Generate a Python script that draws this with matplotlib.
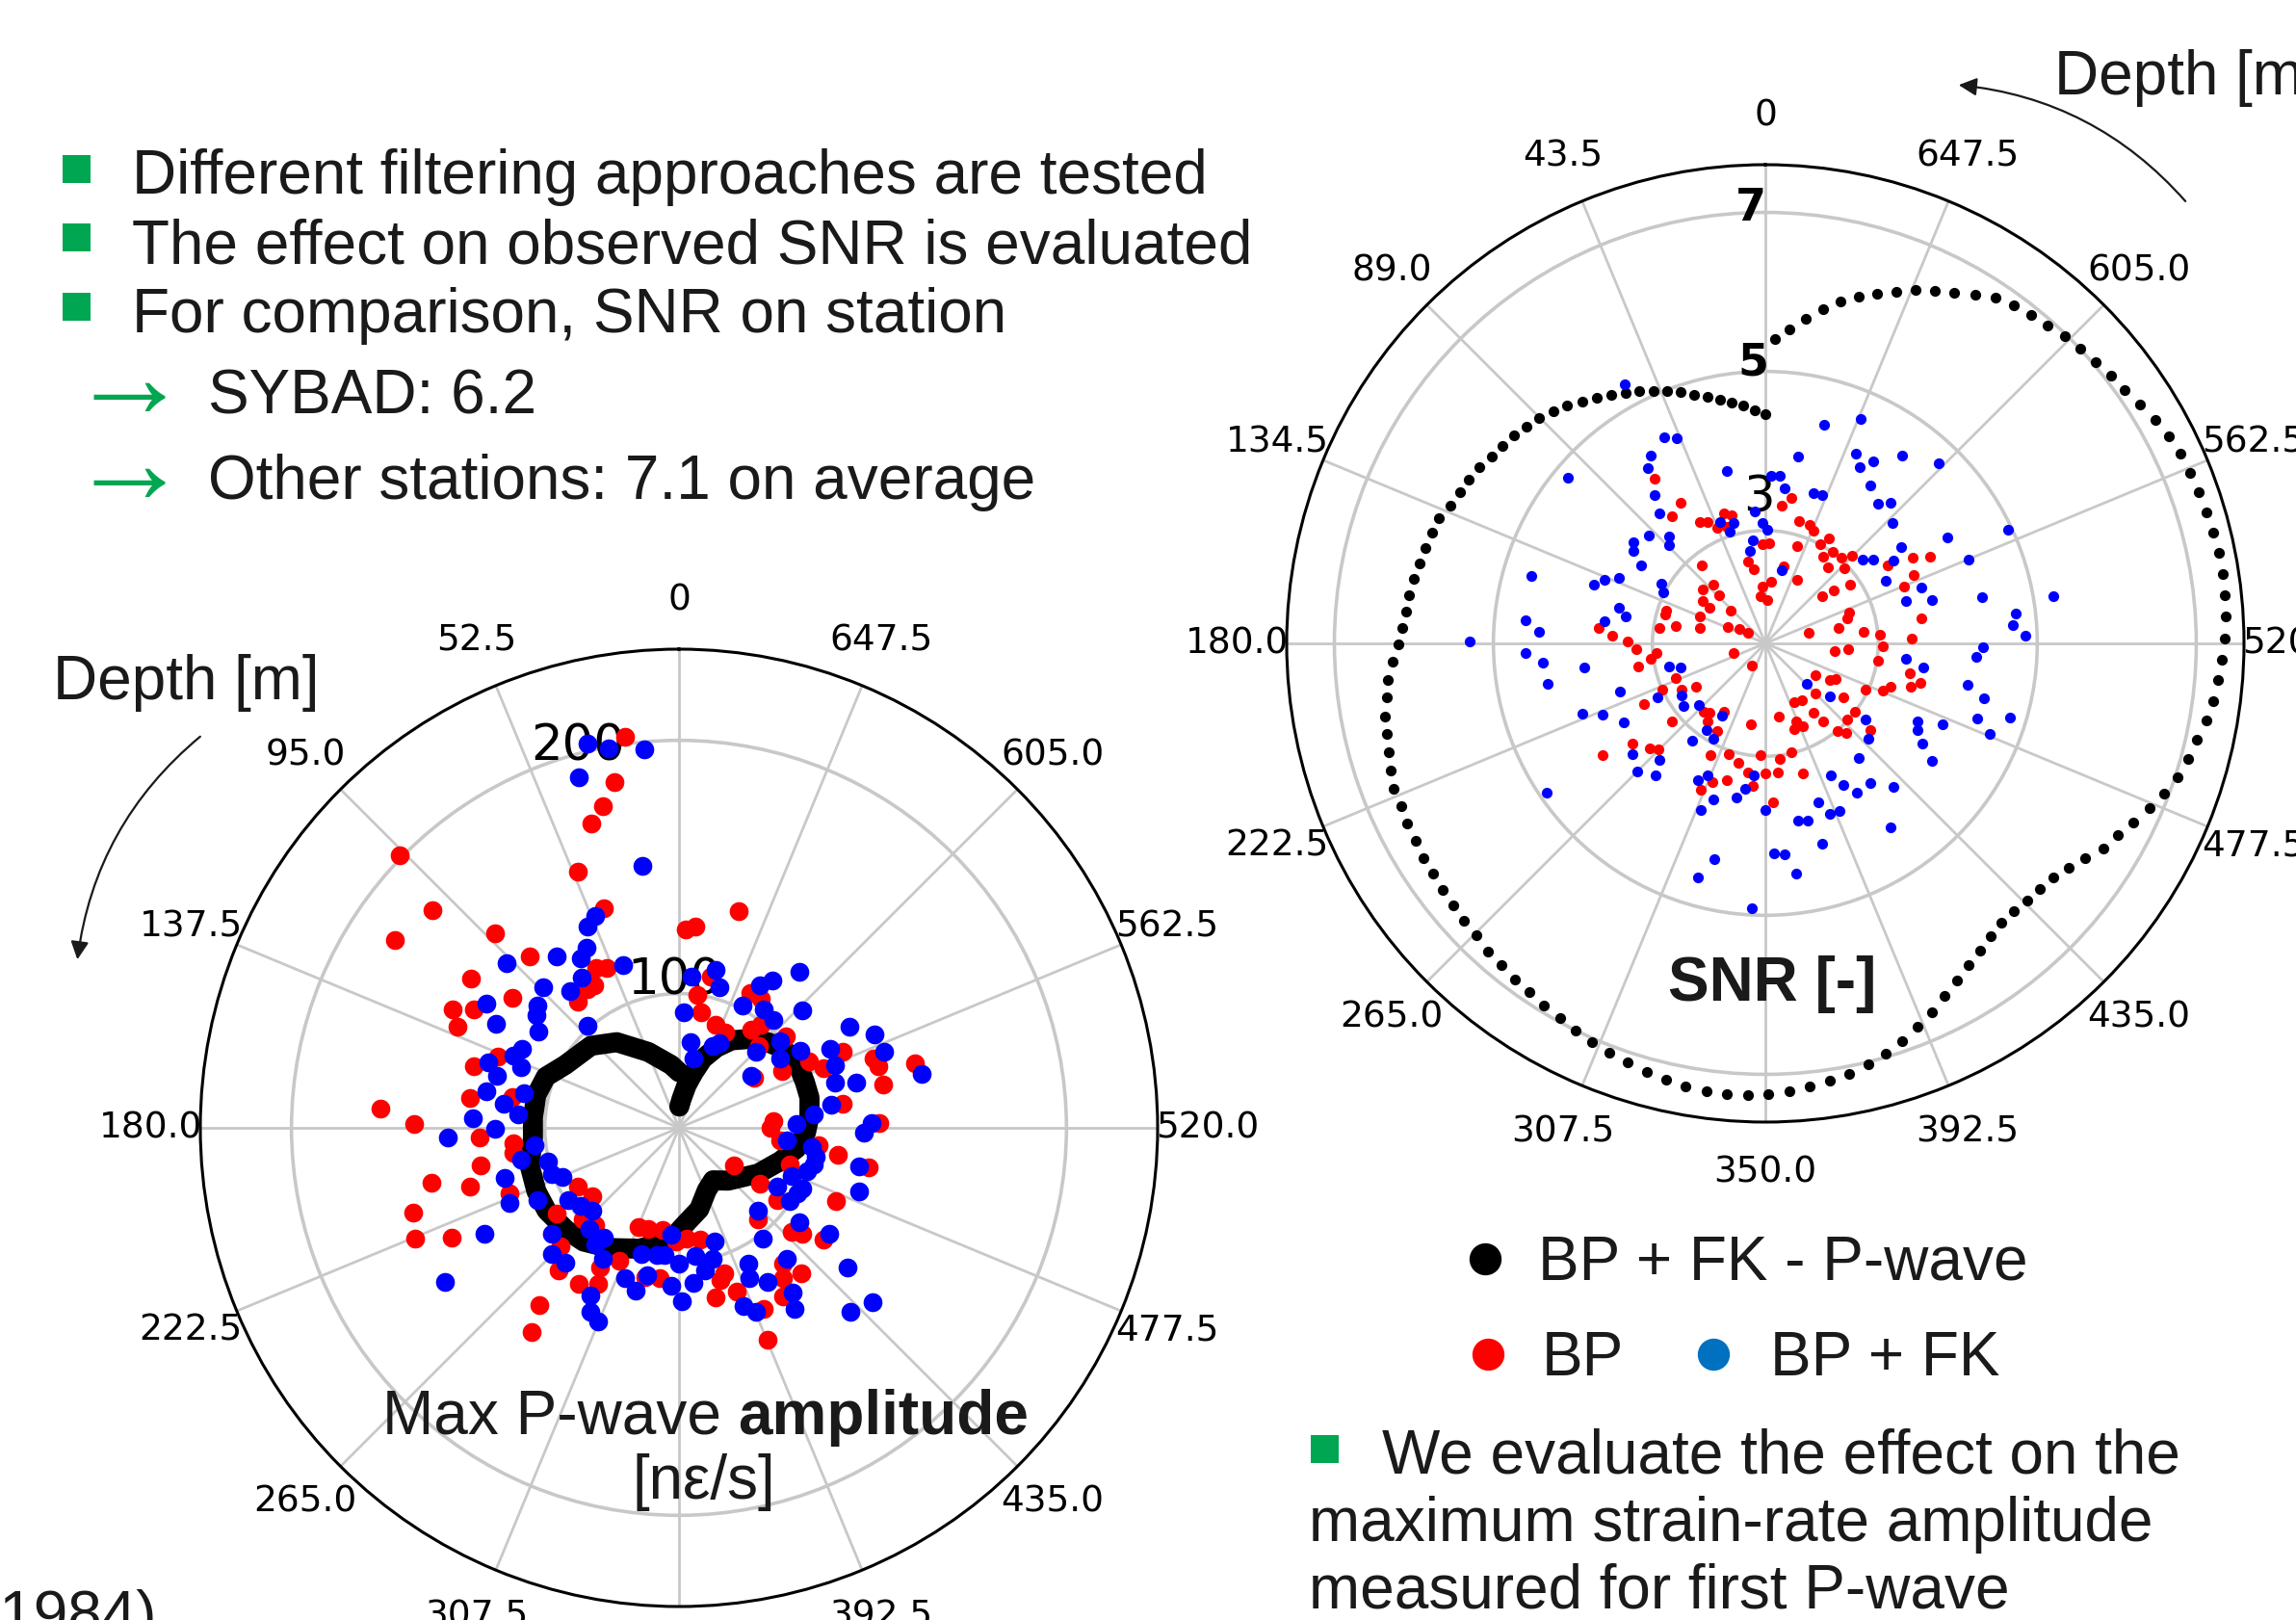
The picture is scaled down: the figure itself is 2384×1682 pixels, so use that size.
# -*- coding: utf-8 -*-
import matplotlib
matplotlib.use('Agg')
import matplotlib.pyplot as plt
import numpy as np
from matplotlib.patches import Rectangle, FancyArrowPatch
from matplotlib.lines import Line2D

W, H = 2384, 1683
GREEN = '#00a651'
TXT = '#1a1a1a'
SLIDE_FONT = ['Liberation Sans', 'DejaVu Sans']

# ---- dial labels (depth [m]) ----
amp_depth_labels = ['0', '52.5', '95.0', '137.5', '180.0', '222.5', '265.0', '307.5',
                    '350.0', '392.5', '435.0', '477.5', '520.0', '562.5', '605.0', '647.5']
snr_depth_labels = ['0', '43.5', '89.0', '134.5', '180.0', '222.5', '265.0', '307.5',
                    '350.0', '392.5', '435.0', '477.5', '520.0', '562.5', '605.0', '647.5']

# ---- left: max P-wave amplitude [nε/s], angle in degrees on the dial ----
amp_pwave_angle = [0, 7, 22, 36, 47, 61, 69, 77, 86, 94, 104, 114, 122, 132, 140, 150,
                   162, 176, 185, 194, 204, 213, 223, 240, 252, 260, 268, 275, 283, 290,
                   298, 307, 314, 322, 329, 335, 341, 345, 350, 355, 359]
amp_pwave = [69, 72, 79.3, 88.8, 94.5, 98.3, 103.3, 104.8, 104.8, 104.8, 107.8, 108.6,
             108.6, 107.1, 105.6, 101.8, 97.2, 91.1, 84.3, 80.1, 74, 71.7, 75.5, 83.1,
             89.2, 94.1, 97.2, 98.7, 99.9, 99.9, 100.2, 98.7, 95.7, 91.5, 87.3, 82, 75.9,
             69.8, 64.1, 58.4, 55.4]

amp_bp_angle = [7.9, 10.6, 13.3, 16.0, 45.7, 21.5, 19.0, 48.6, 56.6, 43.4, 41.1, 54.4, 52.0,
                62.4, 60.0, 27.3, 24.3, 30.6, 38.6, 33.5,
                344.5, 358.1, 355.4, 352.1, 349.0, 332.1, 327.6, 348.0,
                86.4, 89.2, 92.7, 95.4, 98.7, 100.6, 102.6, 105.6, 111.2, 107.7, 112.8, 115.7,
                73.4, 68.5, 81.8, 65.4, 125.0, 120.3, 128.4, 133.6, 139.4, 134.9, 139.8, 147.3,
                152.5, 150.6, 155.7, 141.7, 144.1, 158.0, 163.2, 171.1, 178.4, 167.3, 172.7, 79.5,
                340.6, 333.9, 323.7, 321.5, 315.7, 310.5, 298.8, 297.0, 292.5, 294.8, 289.6,
                287.1, 282.1, 285.3, 278.5, 271.3, 274.1, 270.2, 262.9, 262.9, 260.4, 258.1,
                235.7, 251.7, 235.5, 233.5, 220.8, 245.0, 227.2, 229.5, 232.2, 303.6, 217.5,
                220.0, 214.7, 211.8, 192.3, 195.3, 197.2, 199.5, 205.2, 202.7, 184.1, 190.6]
amp_bp = [202.9, 185.8, 177.4, 172.0, 201.0, 155.7, 138.6, 176.7, 181.4, 152.7, 136.7, 148.0,
          130.6, 147.8, 140.6, 118.0, 116.3, 112.4, 110.9, 112.5,
          135.9, 125.3, 126.6, 99.9, 93.6, 107.4, 107.2, 108.0,
          165.1, 151.6, 125.7, 112.6, 113.0, 126.7, 147.2, 132.8, 118.6, 157.2, 160.0, 146.8,
          131.6, 124.0, 130.3, 143.2, 105.8, 93.2, 90.6, 99.4, 97.7, 113.2, 120.6, 120.4,
          116.4, 110.2, 104.6, 136.0, 146.5, 89.2, 88.6, 87.9, 91.9, 107.3, 106.9, 114.0,
          90.1, 88.8, 95.1, 99.0, 92.4, 102.6, 93.3, 104.6, 108.7, 118.2, 128.4,
          129.2, 129.3, 143.6, 112.4, 126.2, 84.5, 83.1, 87.2, 102.6, 110.6, 123.4,
          73.1, 93.0, 85.9, 95.1, 94.5, 115.6, 107.5, 111.2, 119.2, 82.7, 114.7,
          122.0, 119.3, 125.1, 115.6, 109.3, 107.2, 115.4, 126.0, 137.5, 90.7, 92.0]

amp_bpfk_angle = [13.4, 10.5, 5.2, 16.0, 7.9, 21.6, 24.5, 27.1, 30.2, 35.4, 46.3, 19.0, 32.9,
                  43.9, 38.6, 57.3, 49.1, 51.7,
                  355.2, 346.8, 343.8, 322.3, 330.3, 327.7, 332.5, 324.3, 313.7, 357.6,
                  60.4, 55.5, 41.9, 63.3, 66.3, 71.2, 74.1, 69.1, 79.3, 77.4, 82.3, 85.3, 87.2,
                  90.2, 92.3, 96.8, 101.4, 104.6, 106.0, 112.7, 110.0, 117.0, 113.9, 123.0, 128.6,
                  133.8, 138.3, 145.5, 144.4, 129.7, 134.8, 139.9, 149.8, 152.2, 154.4, 157.2,
                  118.7, 123.3, 160.4, 165.1, 167.7, 163.4, 170.0, 173.5, 175.7, 177.3, 181.0, 180.0,
                  318.7, 300.8, 295.5, 290.3, 297.6, 292.0, 286.2, 284.3, 278.5, 352.5, 348.2,
                  337.7, 334.8, 314.7, 310.7, 302.4, 304.4, 305.6, 271.7, 275.6, 263.4, 261.9,
                  258.2, 254.8, 251.5, 271.3, 268.6, 258.0, 250.5, 246.9, 238.9, 243.8, 241.1,
                  236.4, 223.6, 231.9, 234.9, 217.0, 230.4, 227.9, 222.9, 197.3, 187.2, 190.2,
                  194.4, 185.3, 206.9, 205.1, 209.9, 219.3, 214.6, 212.6, 199.9, 202.7, 282.5]
amp_bpfk = [202.9, 199.3, 196.9, 190.9, 151.4, 137.1, 134.2, 126.8, 124.4, 130.1, 141.2, 115.1,
            117.6, 124.2, 116.1, 137.6, 120.8, 118.8,
            106.9, 110.9, 104.8, 124.8, 111.8, 115.7, 101.4, 104.4, 114.1, 92.8,
            130.1, 114.3, 101.1, 116.5, 118.3, 126.7, 121.7, 113.8, 124.4, 109.6, 117.0, 110.6,
            128.4, 119.6, 138.3, 104.4, 110.7, 100.4, 118.6, 96.9, 100.3, 109.6, 120.1, 99.1,
            96.5, 94.4, 100.3, 99.6, 103.7, 112.4, 117.9, 116.5, 107.0, 121.8, 127.6, 129.8,
            134.4, 157.6, 110.1, 113.5, 106.5, 98.9, 98.0, 97.5, 89.4, 109.4, 115.3, 100.7,
            103.7, 125.2, 132.7, 133.5, 114.2, 113.3, 111.0, 119.3, 107.8, 81.0, 74.9,
            82.0, 84.1, 89.7, 99.7, 103.8, 95.4, 82.0, 93.3, 100.5, 89.7, 100.1,
            102.1, 102.2, 100.5, 123.0, 119.9, 119.6, 122.3, 95.2, 92.1, 101.4, 100.5,
            99.5, 92.4, 107.4, 119.5, 101.9, 133.4, 149.9, 146.3, 94.0, 98.0, 104.2,
            100.5, 108.6, 107.2, 112.6, 117.0, 114.0, 126.2, 131.8, 121.7, 125.9, 145.1]

# ---- right: SNR [-] ----
snr_pwave = [4.46, 4.52, 4.58, 4.64, 4.70, 4.76, 4.83, 4.91, 4.98, 5.05, 5.13, 5.19,
             5.26, 5.33, 5.40, 5.47, 5.53, 5.59, 5.64, 5.68, 5.72, 5.75, 5.80, 5.84,
             5.87, 5.91, 5.98, 6.00, 6.02, 6.05, 6.08, 6.10, 6.12, 6.15,
             6.19, 6.27, 6.35, 6.39, 6.45, 6.48, 6.51, 6.56, 6.60, 6.60,
             6.62, 6.63, 6.66, 6.67, 6.69, 6.70, 6.73, 6.75, 6.79, 6.81,
             6.85, 6.88, 6.92, 6.95, 7.00, 7.05, 7.09, 7.13, 7.17, 7.21,
             7.24, 7.26, 7.27, 7.27, 7.25, 7.22, 7.18, 7.14, 7.10, 7.03,
             6.96, 6.87, 6.77, 6.67, 6.55, 6.45, 6.36, 6.29, 6.23, 6.18,
             6.18, 6.19, 6.21, 6.25, 6.33, 6.42, 6.55, 6.63, 6.73, 6.84, 6.94, 7.03,
             7.09, 7.14, 7.21, 7.26, 7.29, 7.33, 7.36, 7.38, 7.39, 7.40,
             7.40, 7.38, 7.37, 7.35, 7.33, 7.32, 7.29, 7.23, 7.17, 7.11,
             7.08, 7.04, 7.00, 6.97, 6.93, 6.89, 6.85, 6.80, 6.70, 6.59,
             6.50, 6.41, 6.30, 6.20, 6.09, 5.98, 5.85, 5.69, 5.54, 5.41]
snr_pwave_angle = np.linspace(0, 358.2, len(snr_pwave))

snr_bp_angle = [33.9, 31.1, 36.4, 28.4, 25.4, 22.5, 17.6, 14.7, 18.2, 39.2, 41.5, 49.3, 44.0,
                55.8, 57.3, 46.9, 67.4, 71.6, 74.0, 78.9, 81.9, 76.5, 66.1, 60.3, 59.3, 84.6,
                87.1, 89.3, 1.7, 357.6, 12.0, 9.0, 2.9, 354.4, 5.4, 357.5, 353.2,
                349.8, 344.5, 339.3, 336.6, 328.8, 331.1, 342.0, 326.2, 323.4, 318.5, 315.3,
                313.3, 320.4, 302.6, 300.2, 297.6, 294.9, 292.2, 304.9, 333.3, 307.6, 309.9,
                290.0, 286.8, 281.7, 284.2, 276.9, 274.3, 271.8, 279.2, 347.0,
                92.6, 97.6, 95.2, 100.5, 111.2, 114.0, 118.9, 121.9, 116.5, 129.8, 137.7, 141.0,
                143.6, 151.4, 148.8, 127.1, 132.3, 134.9, 124.5, 153.8, 161.8, 167.2, 172.3,
                159.2, 156.2, 164.2, 175.0, 177.7, 180.0, 185.6, 182.7, 170.0, 107.3, 149.0,
                190.2, 187.3,
                266.0, 263.4, 268.7, 261.2, 237.8, 240.6, 243.1, 225.2, 245.3, 248.0, 250.9,
                253.4, 255.7, 258.3, 235.1, 206.4, 212.6, 201.4, 204.2, 198.4, 214.6, 216.9,
                227.1, 232.6, 219.6, 222.1, 230.3, 193.4, 196.0]
snr_bp = [4.07, 3.64, 3.56, 3.31, 3.27, 3.15, 3.30, 3.24, 3.12, 2.84, 2.56, 2.62, 2.42,
          2.53, 2.42, 2.18, 2.47, 2.89, 2.89, 2.73, 2.93, 2.43, 2.10, 1.95, 1.83, 3.69,
          3.51, 3.31, 2.83, 2.84, 2.63, 2.53, 2.30, 2.36, 2.18, 2.13, 3.32,
          3.44, 3.18, 3.17, 3.12, 3.12, 3.01, 2.87, 2.89, 3.01, 3.02, 3.13,
          2.95, 2.82, 3.40, 3.72, 3.92, 3.63, 3.47, 2.88, 2.47, 2.67, 2.51,
          2.70, 2.66, 2.52, 2.14, 2.82, 3.03, 3.42, 3.57, 2.58,
          3.21, 3.04, 2.96, 3.20, 2.79, 3.00, 2.78, 2.61, 3.28, 3.11, 2.74, 2.70,
          2.80, 2.84, 2.59, 3.67, 3.55, 3.47, 4.06, 3.15, 3.04, 3.12, 3.22,
          3.44, 3.59, 3.37, 3.38, 2.99, 3.22, 3.21, 3.58, 2.61, 2.00, 1.91,
          2.52, 3.04,
          2.63, 2.46, 3.06, 3.02, 2.32, 2.51, 2.57, 2.47, 2.96, 3.18, 3.25,
          3.49, 3.59, 3.44, 2.77, 2.41, 2.43, 2.64, 2.72, 2.72, 2.64, 2.80,
          2.98, 3.00, 3.01, 3.10, 3.29, 2.99, 3.28]

snr_bpfk_angle = [28.5, 26.1, 23.4, 31.3, 33.9, 12.7, 357.9, 355.0, 36.6, 39.3, 47.1, 41.8,
                  44.6, 52.5, 55.1, 57.9, 49.9, 73.8, 71.2, 68.4, 65.8, 60.3, 63.5, 76.2, 79.1,
                  82.0, 84.5, 87.0, 89.7, 4.7, 1.4, 359.0, 20.5, 14.8, 17.6, 7.0, 9.7, 347.3,
                  345.0, 337.0, 350.1, 334.4, 329.3, 331.9, 324.0, 316.1, 326.4, 342.2, 339.2,
                  352.8, 321.2, 318.4, 313.4, 295.1, 300.2, 305.4, 292.4, 310.8, 307.9, 302.9,
                  297.4, 289.7, 286.8, 284.5, 282.0, 279.4, 276.9, 274.2, 271.6,
                  92.4, 95.0, 100.5, 97.7, 108.4, 111.1, 113.6, 119.1, 103.2, 106.0, 116.5,
                  121.7, 127.3, 132.8, 148.9, 146.0, 151.4, 143.1, 129.8, 137.6, 135.1, 140.3,
                  153.7, 156.4, 161.6, 158.8, 169.5, 172.2, 175.0, 179.9, 124.2, 166.7, 164.0,
                  177.1, 182.3,
                  268.9, 266.3, 263.7, 261.2, 258.5, 255.9, 226.1, 230.2, 232.6, 227.1, 243.0,
                  240.2, 237.5, 234.9, 245.6, 250.6, 247.9, 253.2, 219.3, 206.3, 208.9, 211.4,
                  216.8, 221.8, 198.4, 190.6, 193.4, 200.7, 203.8, 195.7, 214.1, 185.3, 187.6]
snr_bpfk = [5.29, 4.47, 4.39, 4.35, 4.23, 3.80, 3.69, 3.70, 3.91, 3.69, 3.58, 3.39,
            3.31, 3.67, 3.61, 3.43, 4.82, 4.64, 3.86, 3.76, 3.60, 3.09, 3.02, 3.48, 3.37,
            3.62, 4.61, 4.43, 5.30, 3.25, 3.10, 3.01, 3.21, 3.14, 3.06, 2.88, 2.76, 2.52,
            4.43, 4.65, 3.97, 4.22, 4.24, 4.09, 4.50, 4.73, 3.96, 3.57, 3.58,
            3.55, 3.84, 3.95, 3.78, 4.95, 4.23, 3.67, 4.34, 3.19, 3.30, 3.50,
            3.28, 3.67, 3.43, 3.75, 4.37, 5.25, 4.75, 4.70, 4.85,
            4.60, 4.39, 4.36, 3.88, 3.51, 4.05, 3.81, 3.62, 2.83, 2.69, 3.10,
            2.82, 2.88, 2.72, 2.64, 2.90, 2.94, 3.11, 3.76, 3.56, 3.86, 3.74,
            3.50, 3.39, 3.65, 3.83, 3.55, 3.43, 3.25, 3.67, 4.91, 4.37, 4.64,
            4.91, 4.22,
            4.32, 4.24, 3.36, 3.59, 4.17, 4.41, 2.31, 2.63, 3.16, 3.35, 3.73,
            3.78, 3.92, 4.14, 4.03, 4.41, 4.62, 4.80, 3.44, 3.43, 3.62, 3.78,
            3.78, 4.00, 3.68, 3.85, 3.87, 3.87, 3.89, 4.20, 4.38, 4.24, 4.50]

snr_rtick_values = [7, 5, 3]
snr_rtick_bold = [True, True, False]


def fx(px):
    return px / W


def fy(py):
    return 1 - py / H


def setup_polar(ax, labels, rmin, rmax, rticks):
    ax.set_theta_zero_location('N')
    ax.set_theta_direction(1)
    ax.set_thetagrids(np.arange(0, 360, 22.5), labels, fontsize=27)
    ax.set_rlim(rmin, rmax)
    ax.set_rticks(rticks)
    ax.grid(True, axis='x', color='#c8c8c8', lw=2.0)
    ax.grid(True, axis='y', color='#c8c8c8', lw=2.6)
    ax.spines['polar'].set_linewidth(2.2)
    ax.tick_params(axis='x', pad=30, length=0)
    ax.tick_params(axis='y', length=0)


def slide_text(fig, x, y, s, size=46, **kw):
    fig.text(fx(x), fy(y), s, fontsize=size, family=SLIDE_FONT, color=TXT,
             va='baseline', **kw)


def bullet(fig, xc, yc, size=29):
    fig.add_artist(Rectangle((fx(xc - size / 2), fy(yc + size / 2)), size / W, size / H,
                             transform=fig.transFigure, color=GREEN, lw=0))


if __name__ == '__main__':
    fig = plt.figure(figsize=(W / 100, H / 100), dpi=100)

    # left dial: max P-wave amplitude
    axl = fig.add_axes([208 / W, 14 / H, 994 / W, 994 / H], projection='polar')
    setup_polar(axl, amp_depth_labels, 47, 236, [100, 200])
    axl.tick_params(axis='y', labelsize=37)
    axl.plot(np.radians(amp_pwave_angle), amp_pwave, c='k', lw=15,
             solid_joinstyle='round', solid_capstyle='round', zorder=3)
    axl.scatter(np.radians(amp_bp_angle), amp_bp, s=200, c='#ff0000', lw=0, zorder=4)
    axl.scatter(np.radians(amp_bpfk_angle), amp_bpfk, s=200, c='#0000ff', lw=0, zorder=5)

    # right dial: SNR
    axr = fig.add_axes([1336 / W, 517 / H, 994 / W, 994 / H], projection='polar')
    setup_polar(axr, snr_depth_labels, 1.58, 7.6, [3, 5, 7])
    axr.set_yticklabels([])
    axr.scatter(np.radians(snr_pwave_angle), snr_pwave, s=65, c='k', lw=0, zorder=3)
    axr.scatter(np.radians(snr_bp_angle), snr_bp, s=65, c='#ff0000', lw=0, zorder=4)
    axr.scatter(np.radians(snr_bpfk_angle), snr_bpfk, s=65, c='#0000ff', lw=0, zorder=5)
    for val, th, rr, bold in zip(snr_rtick_values, [1.9, 2.5, 2.6], [7.06, 5.12, 3.42],
                                 snr_rtick_bold):
        axr.text(np.radians(th), rr, str(val), ha='center', va='center',
                 fontsize=33 if bold else 37, fontweight='bold' if bold else 'normal',
                 zorder=2)

    # bullet list top left
    for yc in [176, 247, 319]:
        bullet(fig, 79.5, yc)
    slide_text(fig, 137, 201, 'Different filtering approaches are tested')
    slide_text(fig, 137, 273, 'The effect on observed SNR is evaluated')
    slide_text(fig, 137, 345, 'For comparison, SNR on station')
    for yb in [433, 522]:
        fig.text(fx(71), fy(yb), '\u2192', fontsize=90, family=SLIDE_FONT, color=GREEN,
                 va='baseline')
    slide_text(fig, 216, 429, 'SYBAD: 6.2')
    slide_text(fig, 216, 518, 'Other stations: 7.1 on average')

    # depth labels and curved arrows
    slide_text(fig, 55, 726, 'Depth [m]')
    slide_text(fig, 2133, 98, 'Depth [m]')
    fig.add_artist(FancyArrowPatch((fx(210), fy(764)), (fx(80), fy(1000)),
                                   transform=fig.transFigure, connectionstyle='arc3,rad=0.2',
                                   arrowstyle='-|>', mutation_scale=28, lw=1.6, color='#1a1a1a'))
    fig.add_artist(FancyArrowPatch((fx(2271), fy(212)), (fx(2031), fy(89)),
                                   transform=fig.transFigure, connectionstyle='arc3,rad=0.2',
                                   arrowstyle='-|>', mutation_scale=28, lw=1.6, color='#1a1a1a'))

    # axis titles inside the dials
    slide_text(fig, 397, 1489, 'Max P-wave')
    slide_text(fig, 766, 1489, 'amplitude', fontweight='bold')
    slide_text(fig, 731, 1556, '[n\u03b5/s]', ha='center')
    slide_text(fig, 1840, 1039, 'SNR [-]', ha='center', fontweight='bold')

    # legend
    for (xc, yc, col) in [(1542, 1308, 'k'), (1545, 1407, '#ff0000'), (1779, 1407, '#0070c0')]:
        fig.add_artist(Line2D([fx(xc)], [fy(yc)], transform=fig.transFigure, marker='o',
                              markersize=23, color=col, lw=0))
    slide_text(fig, 1597, 1329, 'BP + FK - P-wave')
    slide_text(fig, 1601, 1428, 'BP')
    slide_text(fig, 1838, 1428, 'BP + FK')

    # bottom right text
    bullet(fig, 1375, 1505.5)
    slide_text(fig, 1435, 1530, 'We evaluate the effect on the')
    slide_text(fig, 1359, 1600, 'maximum strain-rate amplitude')
    slide_text(fig, 1359, 1670, 'measured for first P-wave')

    # citation cut at the lower left corner
    slide_text(fig, -22, 1697, '(1984)')

    fig.savefig('out.png', dpi=100)
